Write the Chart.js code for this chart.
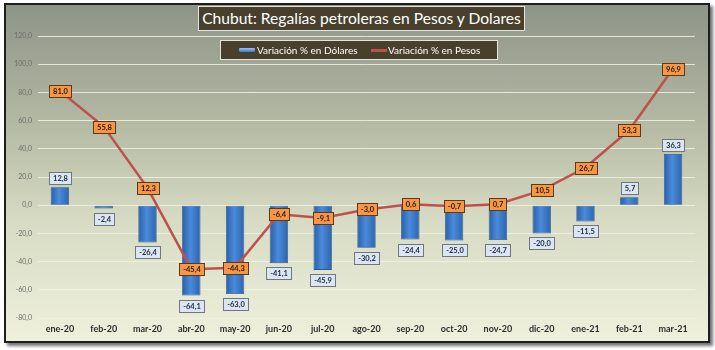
<!DOCTYPE html>
<html>
<head>
<meta charset="utf-8">
<script src="https://cdn.jsdelivr.net/npm/chart.js@4/dist/chart.umd.min.js"></script>
<style>
  html, body { margin: 0; padding: 0; background: #fff; }
  #wrap { position: relative; width: 715px; height: 350px; font-family: Lato, 'Open Sans', sans-serif; }
  #frame {
    position: absolute; left: 4px; top: 3px; width: 702px; height: 336px;
    border: 2px solid #1e1e1e;
    background: linear-gradient(to bottom, #8e9488 0%, #b4b9a3 35%, #d8dcc4 65%, #eef0dc 100%);
    box-shadow: 3px 3px 3px rgba(0,0,0,0.55);
  }
  #chart { position: absolute; left: 0; top: 0; }
  #title {
    position: absolute; left: 198px; top: 6px; width: 325px; height: 23px;
    background: #483f2c; border: 1px solid #e4e4dc; color: #fff;
    font-size: 15.6px; line-height: 23px; text-align: center; white-space: nowrap;
  }
  #legend {
    position: absolute; left: 220px; top: 40px; width: 276px; height: 18px;
    background: #483f2c; border: 1px solid #e4e4dc; color: #fff;
    font-size: 10px; line-height: 18px; white-space: nowrap;
  }
  #legend span { position: absolute; top: 0; }
  .sw-bar { position: absolute; top: 7px; width: 16px; height: 4px; background: linear-gradient(#9cc3f0, #3a78c8); border-radius: 1px; }
  .sw-line { position: absolute; top: 8px; width: 16px; height: 3px; background: #c0504d; }
</style>
</head>
<body>
<div id="wrap">
  <div id="frame"></div>
  <canvas id="chart" width="715" height="350"></canvas>
  <div id="title">Chubut: Regalías petroleras en Pesos y Dolares</div>
  <div id="legend">
    <div class="sw-bar" style="left:18px"></div><span style="left:36px">Variación % en Dólares</span>
    <div class="sw-line" style="left:150px"></div><span style="left:167px">Variación % en Pesos</span>
  </div>
</div>
<script>
// Regalías petroleras Chubut - variación % interanual
const meses = ['ene-20', 'feb-20', 'mar-20', 'abr-20', 'may-20', 'jun-20', 'jul-20', 'ago-20',
  'sep-20', 'oct-20', 'nov-20', 'dic-20', 'ene-21', 'feb-21', 'mar-21'];
const variacionDolares = [12.8, -2.4, -26.4, -64.1, -63.0, -41.1, -45.9, -30.2, -24.4, -25.0, -24.7, -20.0, -11.5, 5.7, 36.3];
const variacionPesos = [81.0, 55.8, 12.3, -45.4, -44.3, -6.4, -9.1, -3.0, 0.6, -0.7, 0.7, 10.5, 26.7, 53.3, 96.9];
const yMin = -80, yMax = 120, yStep = 20;

const fmt = v => v.toFixed(1).replace('.', ',');

function barFill(ctx) {
  const el = ctx.chart.getDatasetMeta(0).data[ctx.dataIndex];
  if (!el || !el.width) return '#3a78c8';
  const g = ctx.chart.ctx.createLinearGradient(el.x - el.width / 2, 0, el.x + el.width / 2, 0);
  g.addColorStop(0, '#2a5fa8');
  g.addColorStop(0.45, '#4a8bdb');
  g.addColorStop(1, '#2d64ad');
  return g;
}

function labelBox(c, text, cx, cy, fill, stroke, color) {
  c.font = 'bold 7.5px Lato, sans-serif';
  const w = Math.round(c.measureText(text).width) + 7;
  const h = 12;
  const x = Math.round(cx - w / 2) + 0.5, y = Math.round(cy - h / 2) + 0.5;
  c.fillStyle = fill;
  c.fillRect(x, y, w, h);
  c.strokeStyle = stroke;
  c.lineWidth = 1;
  c.strokeRect(x, y, w, h);
  c.fillStyle = color;
  c.textAlign = 'center';
  c.textBaseline = 'middle';
  c.fillText(text, x + w / 2, y + h / 2 + 0.5);
}

const valueLabels = {
  id: 'valueLabels',
  afterDatasetsDraw(chart) {
    const c = chart.ctx;
    c.save();
    chart.getDatasetMeta(0).data.forEach((bar, i) => {
      const v = variacionDolares[i];
      const cy = v >= 0 ? bar.y - 9 : bar.y + 10;
      labelBox(c, fmt(v), bar.x, cy, '#dce6f2', '#6f7680', '#1a2a44');
    });
    chart.getDatasetMeta(1).data.forEach((pt, i) => {
      labelBox(c, fmt(variacionPesos[i]), pt.x, pt.y, '#f79646', '#5b3a18', '#2a1a08');
    });
    c.restore();
  }
};

new Chart(document.getElementById('chart'), {
  data: {
    labels: meses,
    datasets: [
      {
        type: 'bar', label: 'Variación % en Dólares', data: variacionDolares,
        backgroundColor: barFill, borderColor: '#2a5590', borderWidth: 0.8,
        borderSkipped: false, barPercentage: 0.42, categoryPercentage: 1, order: 2
      },
      {
        type: 'line', label: 'Variación % en Pesos', data: variacionPesos,
        borderColor: '#c0504d', borderWidth: 2.5, pointRadius: 0, tension: 0, order: 1
      }
    ]
  },
  options: {
    responsive: false,
    animation: false,
    layout: { padding: { left: 0, right: 20, top: 36, bottom: 0 } },
    plugins: { legend: { display: false }, tooltip: { enabled: false } },
    scales: {
      x: {
        offset: true,
        grid: { display: false, drawTicks: false },
        border: { display: false },
        ticks: { color: '#2e2e2e', font: { family: 'Lato', size: 9, weight: 'bold' }, padding: 6, maxRotation: 0 },
        afterFit: s => { s.height = 32; }
      },
      y: {
        min: yMin, max: yMax,
        grid: { color: 'rgba(240,242,228,0.85)', lineWidth: 1, drawTicks: false },
        border: { display: false },
        ticks: { stepSize: yStep, color: '#6e6e66', font: { family: 'Lato', size: 7 }, padding: 6, callback: v => fmt(v) },
        afterFit: s => { s.width = 38; }
      }
    }
  },
  plugins: [valueLabels]
}).update('none');
</script>
</body>
</html>
